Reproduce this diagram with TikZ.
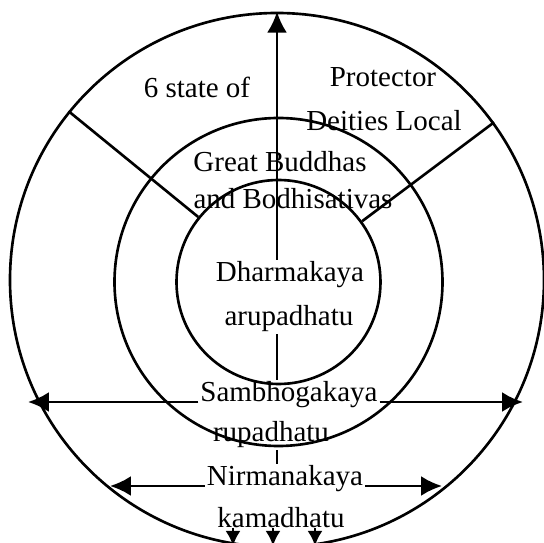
\documentclass[tikz,border=0pt]{standalone}
\usepackage{fontspec}
\setmainfont{Liberation Serif}
\usetikzlibrary{
  arrows.meta,
}
\tikzset{
  ring/.style={
    circle,
    draw=black,
    line width=1.5pt,
    inner sep=0pt
  },
  realm/.style={
    anchor=base,
    inner sep=1pt,
    font=\fontsize{16.5}{20}\selectfont
  },
  spoke/.style={
    line width=1.5pt
  },
  arrow/.style={
    line width=1.5pt,
    -{Latex[length=0.42cm, width=0.4cm]}
  },
  smallarrow/.style={
    line width=1.5pt,
    -{Latex[length=0.3cm, width=0.3cm]}
  },
}

\begin{document}
\begin{tikzpicture}
  \useasboundingbox (-5.54,-5.26) rectangle (5.34,5.60);

  % Rings
  \node (outer) [ring, minimum size=10.68cm] at (0,0) {};
  \node (middle) [ring, minimum size=6.56cm] at (0.03,-0.04) {};
  \node (inner) [ring, minimum size=4.08cm] at (0.03,-0.04) {};

  % Spokes
  \draw [spoke] (inner.141.5) -- (outer.141.5);
  \draw [spoke] (inner.36) -- (outer.36);

  % Labels
  \node (six) [realm] at (-1.60,3.64) {6 state of};
  \node (prot) [realm] at (2.12,3.86) {Protector};
  \node (deit) [realm] at (2.14,2.98) {Deities Local};
  \node (great) [realm] at (0.06,2.16) {Great Buddhas};
  \node (bodhi) [realm] at (0.32,1.42) {and Bodhisativas};
  \node (dharma) [realm] at (0.26,-0.04) {Dharmakaya};
  \node (arupa) [realm] at (0.24,-0.92) {arupadhatu};
  \node (samb) [realm] at (0.24,-2.44) {Sambhogakaya};
  \node (rupa) [realm] at (-0.12,-3.24) {rupadhatu};
  \node (nirm) [realm] at (0.16,-4.12) {Nirmanakaya};
  \node (kama) [realm] at (0.08,-4.96) {kamadhatu};

  % Arrow ends
  \coordinate (sambL) at (-4.98,-2.44);
  \coordinate (sambR) at (4.92,-2.44);
  \coordinate (nirmL) at (-3.34,-4.12);
  \coordinate (nirmR) at (3.30,-4.12);
  \coordinate (downA) at (-0.88,-5.32);
  \coordinate (downB) at (-0.08,-5.32);
  \coordinate (downC) at (0.76,-5.32);

  % Arrows
  \draw [arrow] (dharma.north -| outer.north) -- (outer.north);
  \draw [spoke] (arupa.south -| outer.center) -- (samb.north -| outer.center);
  \draw [spoke] (rupa.south -| outer.center) -- (nirm.north -| outer.center);
  \draw [arrow] (samb.base west) -- (sambL);
  \draw [arrow] (samb.base east) -- (sambR);
  \draw [arrow] (nirm.base west) -- (nirmL);
  \draw [arrow] (nirm.base east) -- (nirmR);
  \draw [smallarrow] (kama.base -| downA) -- (downA);
  \draw [smallarrow] (kama.base -| downB) -- (downB);
  \draw [smallarrow] (kama.base -| downC) -- (downC);

\end{tikzpicture}
\end{document}
